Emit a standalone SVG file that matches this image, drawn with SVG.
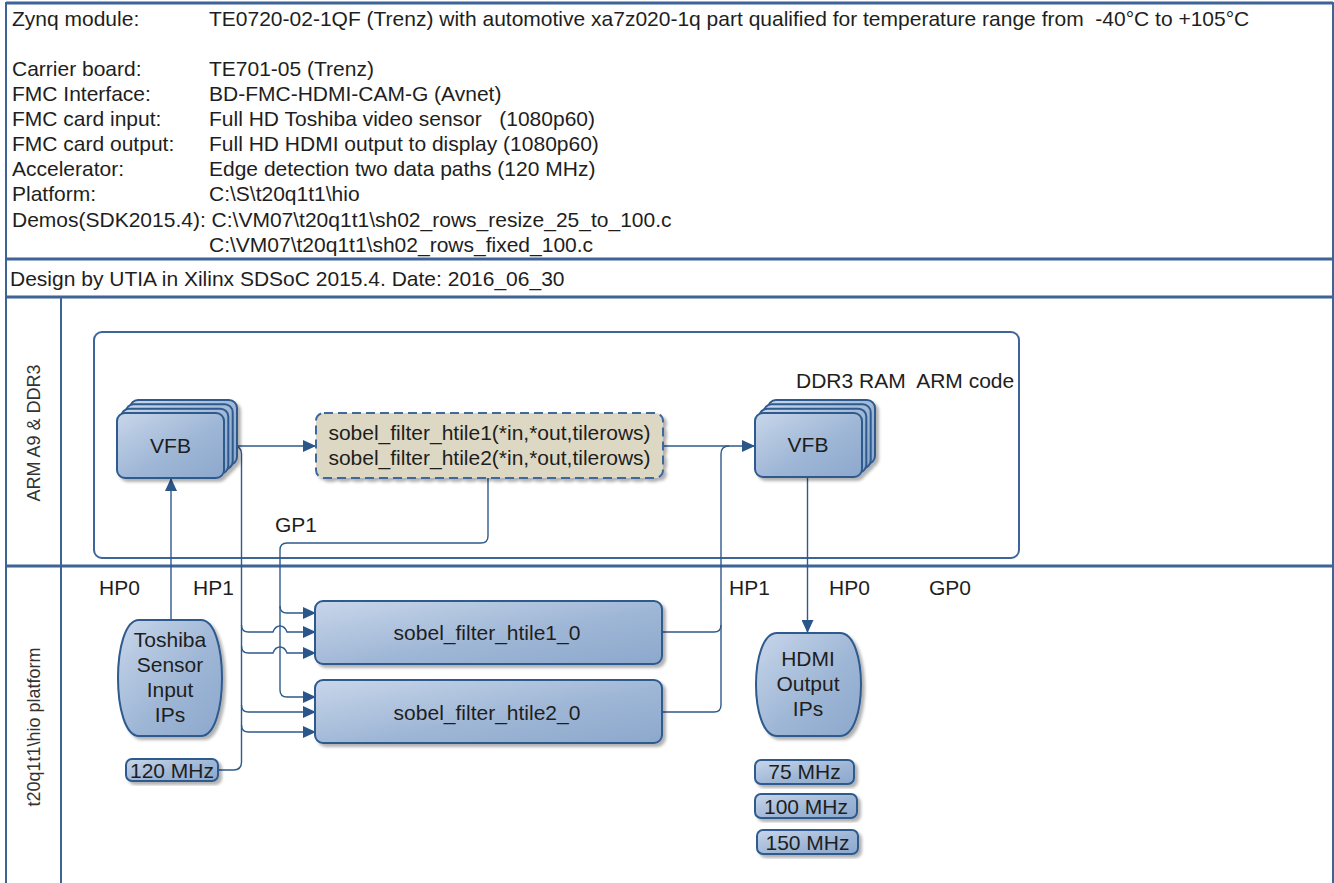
<svg xmlns="http://www.w3.org/2000/svg" width="1334" height="883" viewBox="0 0 1334 883">
<defs>
<linearGradient id="nodeGrad" x1="0" y1="0" x2="1" y2="1">
<stop offset="0" stop-color="#c8d6ea"/>
<stop offset="0.55" stop-color="#9fb7d6"/>
<stop offset="1" stop-color="#8ca8cd"/>
</linearGradient>
<filter id="shadow" x="-10%" y="-10%" width="130%" height="130%">
<feDropShadow dx="3" dy="3" stdDeviation="1.5" flood-color="#000" flood-opacity="0.3"/>
</filter>
<marker id="arrow" viewBox="0 0 13 12" refX="13" refY="6" markerWidth="13" markerHeight="12" markerUnits="userSpaceOnUse" orient="auto">
<path d="M0,0 L13,6 L0,12 Z" fill="#2a568a"/>
</marker>
</defs>
<style>
text{font-family:"Liberation Sans",Arial,sans-serif;fill:#1e1e1e;}
.hdr{font-size:21px;}
.lbl{font-size:21px;}
.lane{font-size:18px;fill:#333;}
.mid{text-anchor:middle;}
.frame{stroke:#3d6397;stroke-width:3;fill:none;}
.frame2{stroke:#3d6397;stroke-width:2;fill:none;}
.node{fill:url(#nodeGrad);stroke:#2d5a8e;stroke-width:2;filter:url(#shadow);}
.stack{fill:url(#nodeGrad);stroke:#2d5a8e;stroke-width:2;}
.func{fill:#ddd8c4;stroke:#41689b;stroke-width:2;stroke-dasharray:9 5;filter:url(#shadow);}
.cont{fill:none;stroke:#3d6599;stroke-width:2;}
.conn{fill:none;stroke:#2e5a8c;stroke-width:1.4;}
</style>

<rect width="1334" height="883" fill="#ffffff"/>

<g id="frame">
<line class="frame" x1="6" y1="3" x2="1333" y2="3"/>
<line class="frame2" x1="6" y1="2" x2="6" y2="883"/>
<line class="frame2" x1="1333" y1="2" x2="1333" y2="883"/>
<line class="frame" x1="6" y1="259" x2="1333" y2="259"/>
<line class="frame" x1="6" y1="297" x2="1333" y2="297"/>
<line class="frame" x1="6" y1="566" x2="1333" y2="566"/>
<line class="frame2" x1="61" y1="297" x2="61" y2="883"/>
</g>

<g id="header">
<text class="hdr" x="12" y="25.5">Zynq module:</text>
<text class="hdr" x="209" y="25.5" xml:space="preserve">TE0720-02-1QF (Trenz) with automotive xa7z020-1q part qualified for temperature range from  -40°C to +105°C</text>
<text class="hdr" x="12" y="75.5">Carrier board:</text>
<text class="hdr" x="209" y="75.5">TE701-05 (Trenz)</text>
<text class="hdr" x="12" y="101">FMC Interface:</text>
<text class="hdr" x="209" y="101">BD-FMC-HDMI-CAM-G (Avnet)</text>
<text class="hdr" x="12" y="126">FMC card input:</text>
<text class="hdr" x="209" y="126" xml:space="preserve">Full HD Toshiba video sensor   (1080p60)</text>
<text class="hdr" x="12" y="151">FMC card output:</text>
<text class="hdr" x="209" y="151">Full HD HDMI output to display (1080p60)</text>
<text class="hdr" x="12" y="176">Accelerator:</text>
<text class="hdr" x="209" y="176">Edge detection two data paths (120 MHz)</text>
<text class="hdr" x="12" y="201">Platform:</text>
<text class="hdr" x="209" y="201">C:\S\t20q1t1\hio</text>
<text class="hdr" x="12" y="227">Demos(SDK2015.4): C:\VM07\t20q1t1\sh02_rows_resize_25_to_100.c</text>
<text class="hdr" x="209" y="252">C:\VM07\t20q1t1\sh02_rows_fixed_100.c</text>
<text class="hdr" x="10" y="285.5">Design by UTIA in Xilinx SDSoC 2015.4. Date: 2016_06_30</text>
</g>

<g id="lanes">
<text class="lane mid" transform="translate(39.5,433) rotate(-90)">ARM A9 &amp; DDR3</text>
<text class="lane mid" transform="translate(39.5,727) rotate(-90)">t20q1t1\hio platform</text>
</g>

<g id="arm-container">
<rect class="cont" x="94" y="332" width="925" height="226" rx="8"/>
<text class="lbl" x="796" y="388" xml:space="preserve">DDR3 RAM  ARM code</text>
</g>

<g id="port-labels">
<text class="lbl" x="99" y="594.5">HP0</text>
<text class="lbl" x="193" y="594.5">HP1</text>
<text class="lbl" x="275" y="531.5">GP1</text>
<text class="lbl" x="729" y="594.5">HP1</text>
<text class="lbl" x="829" y="594.5">HP0</text>
<text class="lbl" x="929" y="594.5">GP0</text>
</g>

<g id="connectors">
<path class="conn" d="M224,446 H316" marker-end="url(#arrow)"/>
<path class="conn" d="M233,446 Q241.5,446 241.5,454 V762 Q241.5,770 233.5,770 H218"/>
<path class="conn" d="M241.5,625 Q241.5,632 248.5,632 H273 C276,624 284,624 287,632 H316" marker-end="url(#arrow)"/>
<path class="conn" d="M241.5,646 Q241.5,653 248.5,653 H273 C276,645 284,645 287,653 H316" marker-end="url(#arrow)"/>
<path class="conn" d="M241.5,705 Q241.5,712 248.5,712 H316" marker-end="url(#arrow)"/>
<path class="conn" d="M241.5,725 Q241.5,732 248.5,732 H316" marker-end="url(#arrow)"/>
<path class="conn" d="M488,478 V536 Q488,543 481,543 H287 Q280,543 280,550 V690 Q280,697 287,697 H316" marker-end="url(#arrow)"/>
<path class="conn" d="M280,606 Q280,613 287,613 H316" marker-end="url(#arrow)"/>
<path class="conn" d="M663,446 H755" marker-end="url(#arrow)"/>
<path class="conn" d="M662,712 H714 Q721,712 721,705 V454 Q721,446 729,446"/>
<path class="conn" d="M662,632 H714 Q721,632 721,625"/>
<path class="conn" d="M807.5,477 V633" marker-end="url(#arrow)"/>
<path class="conn" d="M171,620 V478" marker-end="url(#arrow)"/>
</g>

<g id="vfb-in">
<g filter="url(#shadow)">
<rect class="stack" x="130" y="400" width="107" height="65" rx="8"/>
<rect class="stack" x="125.7" y="404.3" width="107" height="65" rx="8"/>
<rect class="stack" x="121.3" y="408.7" width="107" height="65" rx="8"/>
<rect class="stack" x="117" y="413" width="107" height="65" rx="8"/>
</g>
<text class="lbl mid" x="170.5" y="453">VFB</text>
</g>

<g id="sobel-func">
<rect class="func" x="316" y="413" width="347" height="65" rx="8"/>
<text class="lbl mid" x="489.5" y="439.5">sobel_filter_htile1(*in,*out,tilerows)</text>
<text class="lbl mid" x="489.5" y="464.5">sobel_filter_htile2(*in,*out,tilerows)</text>
</g>

<g id="vfb-out">
<g filter="url(#shadow)">
<rect class="stack" x="768" y="400" width="107" height="64" rx="8"/>
<rect class="stack" x="763.7" y="404.3" width="107" height="64" rx="8"/>
<rect class="stack" x="759.3" y="408.7" width="107" height="64" rx="8"/>
<rect class="stack" x="755" y="413" width="107" height="64" rx="8"/>
</g>
<text class="lbl mid" x="808" y="452">VFB</text>
</g>

<g id="toshiba">
<path class="node" d="M139,620 H201 C229,620 229,736 201,736 H139 C111,736 111,620 139,620 Z"/>
<text class="lbl mid" x="170" y="646.5">Toshiba</text>
<text class="lbl mid" x="170" y="671.5">Sensor</text>
<text class="lbl mid" x="170" y="696.5">Input</text>
<text class="lbl mid" x="170" y="721.5">IPs</text>
</g>

<g id="clk120">
<rect class="node" x="126" y="759" width="92" height="22" rx="6"/>
<text class="lbl mid" x="172" y="777.5">120 MHz</text>
</g>

<g id="htile1">
<rect class="node" x="315" y="601" width="347" height="63" rx="8"/>
<text class="lbl mid" x="487" y="639.5">sobel_filter_htile1_0</text>
</g>

<g id="htile2">
<rect class="node" x="315" y="680" width="347" height="63" rx="8"/>
<text class="lbl mid" x="487" y="719.5">sobel_filter_htile2_0</text>
</g>

<g id="hdmi">
<path class="node" d="M777,633 H840 C868,633 868,736 840,736 H777 C749,736 749,633 777,633 Z"/>
<text class="lbl mid" x="808" y="665.5">HDMI</text>
<text class="lbl mid" x="808" y="690.5">Output</text>
<text class="lbl mid" x="808" y="715.5">IPs</text>
</g>

<g id="clk75">
<rect class="node" x="755" y="760" width="99" height="24" rx="6"/>
<text class="lbl mid" x="804.5" y="779">75 MHz</text>
</g>
<g id="clk100">
<rect class="node" x="755" y="794" width="102" height="24" rx="6"/>
<text class="lbl mid" x="806" y="813.5">100 MHz</text>
</g>
<g id="clk150">
<rect class="node" x="757" y="830" width="101" height="24" rx="6"/>
<text class="lbl mid" x="807.5" y="849.5">150 MHz</text>
</g>
</svg>
